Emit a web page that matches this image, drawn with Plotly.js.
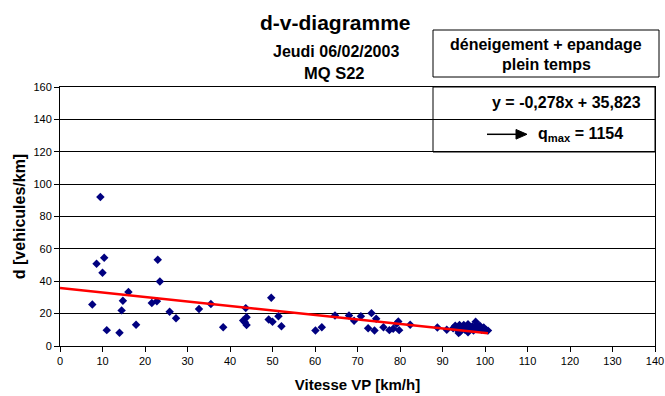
<!DOCTYPE html>
<html>
<head>
<meta charset="utf-8">
<script src="https://cdn.plot.ly/plotly-3.0.1.min.js"></script>
<style>html,body{margin:0;padding:0;background:#fff;}#chart{width:665px;height:396px;}</style>
</head>
<body>
<div id="chart"></div>
<script>
// Vitesse VP [km/h]
const speed = [9.5, 8.6, 10.4, 10.0, 23.0, 23.5, 16.1, 14.8, 7.6, 14.5, 17.9, 11.0, 14.0, 21.6, 22.8, 25.8, 27.3,
  32.7, 35.5, 38.4, 43.7, 43.1, 43.9, 43.5, 43.9, 49.7, 49.1, 50.0, 51.4, 52.1, 60.1, 61.6, 64.7,
  68.0, 69.2, 70.8, 73.3, 74.4, 72.5, 74.0, 76.1, 77.5, 78.4, 79.8, 79.6, 79.2, 82.4, 88.8, 91.0,
  92.5, 93.0, 93.5, 94.0, 94.2, 94.5, 95.0, 95.3, 95.8, 96.0, 96.5, 97.0, 97.3, 97.8, 98.0, 98.3,
  98.8, 99.2, 99.7, 100.2, 100.7, 96.0, 93.8];
// d [vehicules/km]
const density = [92, 50.8, 54.5, 45.3, 53.3, 39.9, 33.3, 28.0, 25.7, 22.0, 13.1, 9.8, 8.2, 26.5, 27.7, 21.2, 17.2,
  22.8, 25.9, 11.6, 23.4, 15.8, 17.8, 14.7, 12.9, 29.8, 16.4, 15.0, 18.4, 12.2, 9.6, 11.6, 18.9,
  18.9, 15.6, 18.4, 20.3, 16.8, 11.0, 9.6, 11.6, 9.8, 10.6, 9.8, 15.1, 13.7, 13.1, 11.4, 10.0,
  11.0, 12.5, 10.0, 13.0, 9.0, 11.5, 13.0, 10.0, 12.0, 13.5, 10.5, 12.0, 9.5, 15.0, 13.0, 11.0,
  12.5, 10.0, 11.5, 10.0, 9.5, 8.5, 8.0];
// linear trend y = -0,278x + 35,823
const trendSlope = -0.278;
const trendIntercept = 35.823;
const trendX = [0, 100.7];
const trendY = trendX.map(x => trendIntercept + trendSlope * x);

const xTicks = [0,10,20,30,40,50,60,70,80,90,100,110,120,130,140];
const yTicks = [0,20,40,60,80,100,120,140,160];

const F = 'Liberation Sans, Arial, sans-serif';
// pixel -> paper helpers (plot area 60..655 x 87..346)
const px = v => (v - 60) / 595;
const py = v => (346 - v) / 259;

const traces = [
  {x: speed, y: density, type: 'scatter', mode: 'markers',
   marker: {symbol: 'diamond', color: '#000080', size: 6.5}, hoverinfo: 'x+y'},
  {x: trendX, y: trendY, type: 'scatter', mode: 'lines',
   line: {color: '#ff0000', width: 2.5}, hoverinfo: 'skip'}
];

const layout = {
  width: 665, height: 396,
  margin: {l: 60, r: 10, t: 87, b: 50},
  paper_bgcolor: '#ffffff', plot_bgcolor: '#ffffff',
  showlegend: false,
  font: {family: F, size: 11, color: '#000'},
  xaxis: {
    range: [0, 140], tickvals: xTicks, ticktext: xTicks.map(String),
    ticks: 'outside', ticklen: 5, tickcolor: '#000',
    showline: true, linecolor: '#000', linewidth: 1, mirror: true,
    showgrid: false, zeroline: false,
    tickfont: {family: F, size: 11, color: '#000'},
    title: {text: 'Vitesse VP [km/h]', font: {family: F, size: 15, color: '#000', weight: 'bold'}, standoff: 13}
  },
  yaxis: {
    range: [0, 160], tickvals: yTicks, ticktext: yTicks.map(String),
    ticks: 'outside', ticklen: 5, tickcolor: '#000',
    showline: true, linecolor: '#000', linewidth: 1, mirror: true,
    showgrid: true, gridcolor: '#000', gridwidth: 1, zeroline: false,
    tickfont: {family: F, size: 11, color: '#000'},
    title: {text: 'd [vehicules/km]', font: {family: F, size: 16, color: '#000', weight: 'bold'}, standoff: 3}
  },
  shapes: [
    {type: 'rect', xref: 'paper', yref: 'paper', x0: px(433), x1: px(659), y0: py(77), y1: py(30),
     line: {color: '#000', width: 1}, fillcolor: 'rgba(0,0,0,0)'},
    {type: 'rect', xref: 'paper', yref: 'paper', x0: px(433), x1: 1, y0: py(152), y1: 1,
     line: {color: '#000', width: 1}, fillcolor: 'rgba(0,0,0,0)'},
    {type: 'line', xref: 'paper', yref: 'paper', x0: px(487), x1: px(518), y0: py(134.3), y1: py(134.3),
     line: {color: '#000', width: 1.5}},
    {type: 'path', xref: 'paper', yref: 'paper',
     path: `M ${px(516)} ${py(129.5)} L ${px(527)} ${py(134.3)} L ${px(516)} ${py(139.1)} Z`,
     fillcolor: '#000', line: {color: '#000', width: 1}}
  ],
  annotations: [
    {text: 'd-v-diagramme', xref: 'paper', yref: 'paper', x: px(335), y: py(22.5), showarrow: false,
     xanchor: 'center', yanchor: 'middle', font: {family: F, size: 21, color: '#000', weight: 'bold'}},
    {text: 'Jeudi 06/02/2003', xref: 'paper', yref: 'paper', x: px(335.5), y: py(51.5), showarrow: false,
     xanchor: 'center', yanchor: 'middle', font: {family: F, size: 16, color: '#000', weight: 'bold'}},
    {text: 'MQ S22', xref: 'paper', yref: 'paper', x: px(334), y: py(73), showarrow: false,
     xanchor: 'center', yanchor: 'middle', font: {family: F, size: 16.5, color: '#000', weight: 'bold'}},
    {text: 'déneigement + epandage', xref: 'paper', yref: 'paper', x: px(546), y: py(44), showarrow: false,
     xanchor: 'center', yanchor: 'middle', font: {family: F, size: 16, color: '#000', weight: 'bold'}},
    {text: 'plein temps', xref: 'paper', yref: 'paper', x: px(546), y: py(64.5), showarrow: false,
     xanchor: 'center', yanchor: 'middle', font: {family: F, size: 16, color: '#000', weight: 'bold'}},
    {text: 'y = -0,278x + 35,823', xref: 'paper', yref: 'paper', x: px(643), y: py(102.5), showarrow: false,
     xanchor: 'right', yanchor: 'middle', font: {family: F, size: 16, color: '#000', weight: 'bold'}},
    {text: 'q<sub>max</sub> = 1154', xref: 'paper', yref: 'paper', x: px(536), y: py(134), showarrow: false,
     xanchor: 'left', yanchor: 'middle', font: {family: F, size: 16, color: '#000', weight: 'bold'}}
  ]
};

Plotly.newPlot('chart', traces, layout, {staticPlot: true, displayModeBar: false});
</script>
</body>
</html>
